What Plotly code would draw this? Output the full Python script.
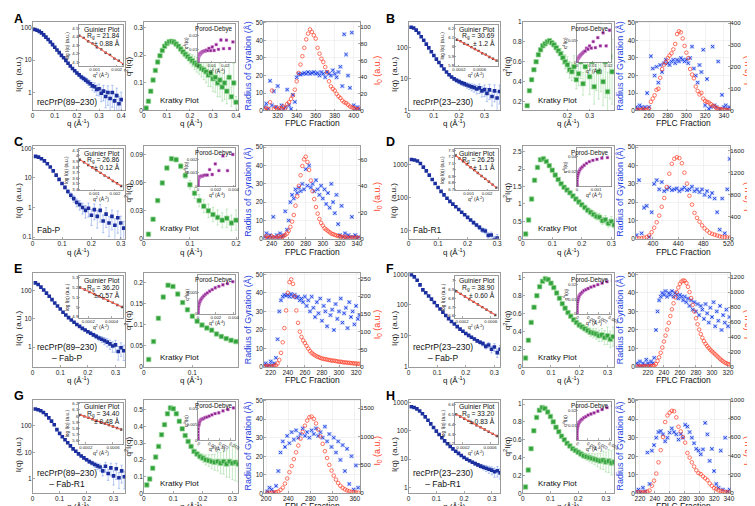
import numpy as np
import plotly.graph_objects as go

W, H = 755, 506
FONT = "Liberation Sans, Arial, sans-serif"

# ---------------- shared q grid (1/Angstrom) ----------------
Q = [0.01, 0.02, 0.03, 0.04, 0.05, 0.06, 0.07, 0.08, 0.09, 0.10,
     0.11, 0.12, 0.13, 0.14, 0.15, 0.16, 0.17, 0.18, 0.19, 0.20,
     0.21, 0.22, 0.23, 0.24, 0.25, 0.26, 0.27, 0.28, 0.29, 0.30,
     0.31, 0.32, 0.33, 0.34, 0.35, 0.36, 0.37, 0.38, 0.39, 0.40]

# ---------------- Panel A ----------------
A_I = [88, 83, 77, 69, 60, 51, 43, 36, 30, 25,
       20.5, 17, 14, 11.8, 9.8, 8.0, 6.6, 5.5, 4.7, 4.0,
       3.5, 3.0, 2.7, 2.4, 2.1, 1.85, 1.6, 1.5, 1.25, 1.3,
       0.95, 1.1, 0.75, 1.0, 0.65, 1.0, 0.55, 0.8, 0.45, 0.6]
A_err = [0.02, 0.02, 0.02, 0.02, 0.02, 0.02, 0.02, 0.02, 0.02, 0.02,
         0.02, 0.02, 0.03, 0.03, 0.03, 0.04, 0.05, 0.06, 0.08, 0.10,
         0.12, 0.14, 0.16, 0.18, 0.20, 0.24, 0.28, 0.32, 0.36, 0.40,
         0.45, 0.50, 0.55, 0.60, 0.60, 0.65, 0.65, 0.70, 0.70, 0.70]
A_K = [0.009, 0.034, 0.070, 0.110, 0.145, 0.175, 0.198, 0.217, 0.232, 0.242,
       0.248, 0.250, 0.247, 0.240, 0.232, 0.222, 0.212, 0.203, 0.195, 0.187,
       0.180, 0.172, 0.165, 0.160, 0.152, 0.147, 0.140, 0.128, 0.135, 0.115,
       0.120, 0.100, 0.110, 0.085, 0.100, 0.070, 0.120, 0.050, 0.100, 0.030]
A_gq2 = [0.0003, 0.0005, 0.0007, 0.0009, 0.0011, 0.0013, 0.0015, 0.0017, 0.0019, 0.0021, 0.0023]
A_gln = [4.41, 4.385, 4.345, 4.32, 4.275, 4.25, 4.21, 4.185, 4.14, 4.115, 4.075]
A_frac = list(range(306, 407, 2))
A_rg = [2, 4, 1, 17, 3, 11, 2, 14, 1, 3, 0.5, 2, 12, 3, 1, 9, 5, 19, 21, 20.5,
        21, 21.5, 21, 22, 21, 21.5, 22, 21, 21.5, 20, 22, 21, 19, 22, 21, 20, 23, 21, 19, 22,
        25, 14, 43.5, 32, 20, 13, 44.5, 3, 1, 2, 1]
A_i0 = [1, 3, 2, 10, 24, 2, 4, 1, 3, 2, 5, 3, 8, 10, 14, 18, 25, 35, 45, 55,
        65, 75, 85, 92, 97, 94, 90, 86, 75, 68, 62, 58, 52, 46, 35, 29, 26, 24, 20, 17,
        15, 12, 10, 9, 7, 5, 4, 3, 2, 1, 2]

# ---------------- Panel B ----------------
B_I = [425, 405, 345, 280, 215, 165, 125, 95, 72, 55,
       42, 33, 26, 20.5, 16.5, 13.5, 11.5, 10, 9, 8.2,
       7.5, 7, 6.4, 6, 5.6, 5.3, 4.8, 5.2, 4.2, 4.6,
       3.5, 4.5, 2.8, 4.2, 2.5, 4.0, 2.0, 3.5, 2.5, 3.0]
B_err = [0.02, 0.02, 0.02, 0.02, 0.02, 0.02, 0.02, 0.02, 0.02, 0.02,
         0.02, 0.03, 0.03, 0.04, 0.05, 0.06, 0.08, 0.10, 0.12, 0.14,
         0.16, 0.18, 0.20, 0.22, 0.25, 0.28, 0.30, 0.33, 0.36, 0.40,
         0.45, 0.50, 0.50, 0.55, 0.60, 0.60, 0.60, 0.65, 0.65, 0.65]
B_K = [0.04, 0.16, 0.31, 0.42, 0.52, 0.60, 0.67, 0.72, 0.76, 0.78,
       0.80, 0.81, 0.79, 0.77, 0.74, 0.71, 0.68, 0.64, 0.60, 0.57,
       0.52, 0.50, 0.55, 0.42, 0.48, 0.60, 0.38, 0.55, 0.70, 0.45,
       0.60, 0.35, 0.62, 0.50, 0.75, 0.40, 0.60, 0.30, 0.65, 0.50]
B_gq2 = [0.00016, 0.00023, 0.0003, 0.00037, 0.00044, 0.00051, 0.00058, 0.00065, 0.00072, 0.00079, 0.00086, 0.00093]
B_gln = [6.075, 6.06, 6.035, 6.02, 5.995, 5.975, 5.955, 5.93, 5.915, 5.89, 5.87, 5.85]
B_frac = list(range(246, 347, 2))
B_rg = [2, 1, 3, 2, 1, 2, 10, 2, 31, 24, 20, 25, 16, 26, 22, 27, 29, 27, 26, 28,
        29, 27, 29, 28, 30, 29, 28, 29, 27, 30, 36.5, 24, 20, 16, 26, 22, 34.7, 3, 18, 1,
        2, 36.5, 3, 2, 28, 1, 9, 2, 3, 1, 2]
B_i0 = [2, 5, 1, 3, 8, 2, 4, 10, 40, 55, 70, 95, 100, 150, 190, 210, 222, 240, 252, 262,
        280, 305, 350, 363, 358, 330, 296, 265, 240, 190, 165, 148, 110, 90, 74, 81, 55, 44, 40, 37,
        30, 22, 20, 12, 8, 7, 5, 4, 3, 2, 3]

# ---------------- Panel C ----------------
C_I = [54, 51, 45, 38, 30.5, 23.5, 17.5, 12.5, 9, 6.5,
       4.8, 3.5, 2.6, 2.0, 1.5, 1.25, 1.0, 0.8, 0.95, 0.55,
       0.85, 0.5, 0.8, 0.35, 0.6, 0.3, 0.5, 0.25, 0.45, 0.3,
       0.2]
C_err = [0.02, 0.02, 0.02, 0.02, 0.02, 0.03, 0.03, 0.04, 0.05, 0.08,
         0.12, 0.16, 0.20, 0.25, 0.30, 0.35, 0.40, 0.45, 0.50, 0.55,
         0.55, 0.60, 0.60, 0.60, 0.65, 0.65, 0.65, 0.70, 0.70, 0.70,
         0.70]
C_K = [0.005, 0.021, 0.041, 0.060, 0.076, 0.086, 0.085, 0.078, 0.068, 0.058,
       0.049, 0.041, 0.035, 0.030, 0.026, 0.023, 0.020, 0.022, 0.017, 0.020]
C_gq2 = [0.0003, 0.0005, 0.0007, 0.0009, 0.0011, 0.0013, 0.0015, 0.0017, 0.0019, 0.0021, 0.0023]
C_gln = [3.93, 3.885, 3.835, 3.795, 3.74, 3.695, 3.645, 3.605, 3.55, 3.51, 3.46]
C_frac = list(range(232, 343, 2))
C_rg = [1, 3, 0.5, 2, 1, 12, 1, 2, 0.5, 3, 1, 2, 15, 5,
        10, 20, 24, 22, 27, 25, 28, 26, 30, 27, 38, 29, 40, 28, 30, 26, 32, 27, 24, 29,
        22, 27, 19, 25, 17, 30, 20, 14, 24, 8, 2, 18, 1, 3, 0.5, 2, 1, 12, 1, 2, 0.5, 1]
C_i0 = [1, 2, 0.5, 1, 2, 1, 0.5, 1, 2, 1, 1.5, 2, 3, 4,
        6, 9, 13, 18, 25, 32, 40, 48, 55, 60, 62, 58, 52, 44, 36, 30, 24, 19, 15, 12,
        10, 8, 7, 6, 5, 4, 3.5, 3, 2.5, 2, 2, 1.5, 1, 1.5, 1, 0.5, 1, 0.5, 1, 0.5, 1, 0.5]

# ---------------- Panel D ----------------
D_I = [1390, 1350, 1260, 1050, 820, 630, 470, 347, 260, 197,
       151, 118, 93, 75, 62, 51.5, 42.5, 35, 29.4, 24.5,
       20.4, 17, 14.4, 12.2, 10.2, 9.5, 7.0, 7.2, 5.2, 5.8,
       4.2]
D_err = [0.02, 0.02, 0.02, 0.02, 0.02, 0.02, 0.02, 0.02, 0.02, 0.02,
         0.02, 0.02, 0.02, 0.02, 0.02, 0.03, 0.04, 0.05, 0.06, 0.07,
         0.08, 0.10, 0.12, 0.14, 0.16, 0.18, 0.20, 0.22, 0.25, 0.28,
         0.30]
D_K = [0.14, 0.54, 1.14, 1.68, 2.05, 2.27, 2.30, 2.22, 2.10, 1.97,
       1.83, 1.70, 1.58, 1.48, 1.40, 1.32, 1.23, 1.14, 1.06, 0.98,
       0.90, 0.82, 0.76, 0.70, 0.64, 0.62, 0.52, 0.55, 0.44, 0.50,
       0.40]
D_gq2 = [0.0003, 0.0005, 0.0007, 0.0009, 0.0011, 0.0013, 0.0015, 0.0017, 0.0019, 0.0021, 0.0023, 0.0025]
D_gln = [7.22, 7.175, 7.13, 7.085, 7.04, 6.995, 6.95, 6.905, 6.86, 6.815, 6.77, 6.725]
D_frac = list(range(374, 523, 4))
D_rg = [2, 32, 3, 17, 18, 1, 14.5, 30, 32, 27, 31, 26, 27, 28, 26.5, 27, 27.5, 26, 27, 28,
        26.5, 27, 28.5, 26, 27, 25.5, 27, 24, 26, 23, 25, 22, 14.5, 5, 22, 3, 27, 43.6]
D_i0 = [5, 8, 10, 20, 30, 60, 120, 200, 300, 420, 580, 740, 940, 1180, 1360, 1450, 1478, 1463, 1370, 1200,
        1000, 780, 620, 470, 380, 310, 244, 190, 150, 110, 90, 75, 60, 45, 35, 30, 25, 20]

# ---------------- Panel E ----------------
E_I = [183, 160, 130, 103, 80, 62, 47, 36, 28, 22,
       17, 13.5, 11, 9, 7.5, 6.3, 5.4, 4.6, 4, 3.5,
       3.1, 2.7, 2.4, 2.1, 1.9, 1.7, 1.5, 1.3, 1.1, 1.2,
       0.7, 0.95, 0.75]
E_err = [0.02, 0.02, 0.02, 0.02, 0.02, 0.02, 0.02, 0.02, 0.02, 0.02,
         0.02, 0.02, 0.03, 0.03, 0.04, 0.05, 0.06, 0.07, 0.08, 0.10,
         0.12, 0.14, 0.17, 0.20, 0.24, 0.28, 0.32, 0.36, 0.40, 0.45,
         0.50, 0.50, 0.55]
E_K = [0.018, 0.060, 0.115, 0.165, 0.193, 0.190, 0.172, 0.152, 0.135, 0.120,
       0.108, 0.099, 0.092, 0.087, 0.078, 0.072, 0.067, 0.063, 0.060, 0.058]
E_gq2 = [0.00013, 0.00017, 0.00021, 0.00025, 0.00029, 0.00033, 0.00037, 0.00041, 0.00045, 0.00049]
E_gln = [5.2, 5.18, 5.155, 5.135, 5.11, 5.09, 5.065, 5.045, 5.02, 5.0]
E_frac = list(range(212, 325, 2))
E_rg = [1, 2, 0.5, 1, 3, 1, 2, 5,
        15, 30, 36, 38, 39, 38.5, 39, 38, 39.5, 38, 39, 37.5, 38, 36, 37, 35, 38, 33, 36, 30,
        38, 32, 27, 35, 29, 37, 25, 33, 30, 22, 36, 28, 31, 20, 34, 26, 30, 37, 24, 29,
        32, 21, 35, 27, 30, 23, 33, 26, 28]
E_i0 = [2, 1, 3, 2, 1, 2, 3, 5,
        10, 20, 40, 70, 110, 160, 210, 240, 248, 235, 200, 160, 125, 100, 85, 75, 68, 60, 52, 45,
        40, 36, 33, 30, 28, 26, 24, 23, 22, 21, 20, 19, 18, 18, 17, 16, 15, 15, 14, 13,
        13, 12, 12, 11, 11, 10, 10, 9, 9]

# ---------------- Panel F ----------------
F_I = [960, 820, 640, 450, 310, 250, 196, 155, 121, 94,
       74, 58, 45.6, 36, 29, 24, 19.7, 16.4, 13.9, 11.8,
       10.2, 8.9, 7.8, 6.8, 6.1, 5.5, 4.5, 5.0, 3.6, 4.3,
       2.8, 3.6]
F_err = [0.02, 0.02, 0.02, 0.02, 0.02, 0.02, 0.02, 0.02, 0.02, 0.02,
         0.02, 0.02, 0.02, 0.02, 0.02, 0.03, 0.03, 0.04, 0.05, 0.06,
         0.07, 0.08, 0.10, 0.12, 0.14, 0.16, 0.18, 0.20, 0.24, 0.28,
         0.30, 0.32]
F_K = [0.10, 0.30, 0.50, 0.67, 0.80, 0.90, 0.96, 0.99, 0.98, 0.94,
       0.89, 0.83, 0.77, 0.71, 0.66, 0.61, 0.57, 0.53, 0.50, 0.47,
       0.45, 0.43, 0.41, 0.39, 0.38, 0.37, 0.35, 0.36, 0.33, 0.35,
       0.31, 0.34]
F_gq2 = [0.00012, 0.00018, 0.00024, 0.0003, 0.00036, 0.00042, 0.00048, 0.00054, 0.0006, 0.00066]
F_gln = [6.88, 6.85, 6.82, 6.79, 6.76, 6.73, 6.70, 6.67, 6.64, 6.61]
F_frac = list(range(206, 323, 2))
F_rg = [2, 1, 3, 0.5, 2, 1, 4, 2, 1, 3, 2, 5,
        20, 30, 36, 38, 40, 39, 41, 38, 40, 39, 41, 38, 40, 39, 37, 39, 38, 36, 38, 35,
        37, 33, 36, 31, 35, 30, 34, 28, 33, 31, 26, 34, 29, 24, 32, 27, 35, 22, 30, 25,
        33, 20, 28, 24, 31, 22, 27]
F_i0 = [5, 3, 8, 4, 6, 10, 5, 8, 12, 10, 15, 20,
        40, 80, 130, 190, 260, 340, 420, 500, 590, 680, 770, 850, 930, 1000, 1060, 1110, 1140, 1155,
        1150, 1120, 1070, 1000, 920, 830, 740, 650, 570, 500, 440, 390, 345, 310, 280, 255, 230, 210,
        190, 170, 150, 130, 110, 90, 75, 60, 50, 40, 35]

# ---------------- Panel G ----------------
G_I = [430, 405, 370, 320, 260, 200, 150, 110, 72, 52,
       39, 30, 23, 17.5, 13.5, 11, 8.8, 7.3, 6.2, 5.3,
       4.5, 4.0, 3.5, 3.1, 2.8, 2.0, 3.0, 1.6, 2.6, 1.3,
       2.4, 1.1, 2.0, 1.2]
G_err = [0.02, 0.02, 0.02, 0.02, 0.02, 0.02, 0.02, 0.02, 0.02, 0.02,
         0.02, 0.02, 0.02, 0.02, 0.03, 0.04, 0.05, 0.07, 0.09, 0.12,
         0.15, 0.18, 0.22, 0.26, 0.30, 0.35, 0.40, 0.45, 0.50, 0.55,
         0.60, 0.60, 0.65, 0.65]
G_K = [0.05, 0.085, 0.15, 0.216, 0.28, 0.35, 0.41, 0.475, 0.51, 0.505,
       0.475, 0.43, 0.385, 0.345, 0.31, 0.28, 0.25, 0.235, 0.22, 0.21,
       0.20, 0.195, 0.19, 0.185, 0.19, 0.18, 0.19, 0.175, 0.19, 0.18,
       0.185, 0.175]
G_gq2 = [0.00012, 0.00018, 0.00024, 0.0003, 0.00036, 0.00042, 0.00048, 0.00054, 0.0006, 0.00066, 0.00072]
G_gln = [6.02, 5.996, 5.973, 5.949, 5.926, 5.902, 5.878, 5.855, 5.831, 5.808, 5.784]
G_frac = list(range(202, 367, 4))
G_rg = [1, 3, 2, 0.5, 4, 12, 22,
        28, 25, 31, 27, 33, 29, 34, 30, 32, 35, 31, 33, 30, 34, 32, 35, 31, 33, 30, 36,
        28, 32, 25, 30, 22, 28, 18, 26, 12, 24, 5, 20, 2, 15, 3]
G_i0 = [10, 5, 8, 12, 20, 30, 60,
        100, 170, 260, 370, 480, 600, 720, 840, 960, 1080, 1190, 1280, 1340, 1350, 1310, 1230, 1120, 1000, 870, 740,
        620, 500, 400, 310, 240, 180, 130, 95, 70, 50, 35, 25, 20, 15, 10]

# ---------------- Panel H ----------------
H_I = [700, 660, 590, 500, 400, 310, 235, 175, 130, 97,
       74, 57, 44, 35, 28, 23, 19, 16, 13.5, 11.5,
       10, 8.8, 7.8, 7, 6.3, 5.7, 5.2, 4.8, 4.4, 4.1,
       3.6, 3.9, 3.3]
H_err = [0.02, 0.02, 0.02, 0.02, 0.02, 0.02, 0.02, 0.02, 0.02, 0.02,
         0.02, 0.02, 0.02, 0.02, 0.02, 0.03, 0.03, 0.04, 0.05, 0.06,
         0.07, 0.08, 0.10, 0.12, 0.14, 0.16, 0.20, 0.24, 0.28, 0.32,
         0.36, 0.40, 0.40]
H_K = [0.07, 0.26, 0.50, 0.70, 0.85, 0.93, 0.96, 0.95, 0.91, 0.86,
       0.80, 0.74, 0.69, 0.64, 0.60, 0.56, 0.53, 0.50, 0.48, 0.46,
       0.44, 0.42, 0.41, 0.40, 0.39, 0.38, 0.37, 0.36, 0.37, 0.35,
       0.36, 0.34, 0.35]
H_gq2 = [0.0001, 0.00016, 0.00022, 0.00028, 0.00034, 0.0004, 0.00046, 0.00052, 0.00058, 0.00064, 0.0007]
H_gln = [6.5, 6.478, 6.456, 6.434, 6.412, 6.39, 6.368, 6.346, 6.324, 6.302, 6.28]
H_frac = list(range(215, 342, 3))
H_rg = [1, 2, 0.5, 3, 1, 22, 5, 23, 26, 30, 33, 33.6, 31.8, 28, 30, 32.7, 35, 33, 31.8, 29,
        32, 30, 37, 36, 33, 30, 27, 24, 23, 21, 23.7, 38, 31.8, 17.5, 24, 12, 5, 3, 23, 2,
        30, 1, 2]
H_i0 = [8, 10, 12, 9, 11, 18, 30, 80, 134, 210, 330, 460, 600, 760, 830, 860, 880, 875, 810, 710,
        660, 600, 540, 430, 380, 330, 285, 245, 215, 205, 180, 160, 140, 105, 80, 55, 45, 30, 25, 20,
        12, 10, 8]

# ---------------- labels / Guinier results ----------------
NAMES = {'A': "recPrP(89–230)", 'B': "recPrP(23–230)", 'C': "Fab-P", 'D': "Fab-R1",
         'E': "recPrP(89–230)<br>– Fab-P", 'F': "recPrP(23–230)<br>– Fab-P",
         'G': "recPrP(89–230)<br>– Fab-R1", 'H': "recPrP(23–230)<br>– Fab-R1"}
RG_VAL = {'A': "21.84", 'B': "30.69", 'C': "26.86", 'D': "26.25", 'E': "36.20", 'F': "38.90", 'G': "34.40", 'H': "33.20"}
RG_ERR = {'A': "0.88", 'B': "1.2", 'C': "0.12", 'D': "1.1", 'E': "0.57", 'F': "0.60", 'G': "0.48", 'H': "0.83"}

DATA = {
    'A': dict(I=A_I, err=A_err, K=A_K, gq2=A_gq2, gln=A_gln, frac=A_frac, rg=A_rg, i0=A_i0),
    'B': dict(I=B_I, err=B_err, K=B_K, gq2=B_gq2, gln=B_gln, frac=B_frac, rg=B_rg, i0=B_i0),
    'C': dict(I=C_I, err=C_err, K=C_K, gq2=C_gq2, gln=C_gln, frac=C_frac, rg=C_rg, i0=C_i0),
    'D': dict(I=D_I, err=D_err, K=D_K, gq2=D_gq2, gln=D_gln, frac=D_frac, rg=D_rg, i0=D_i0),
    'E': dict(I=E_I, err=E_err, K=E_K, gq2=E_gq2, gln=E_gln, frac=E_frac, rg=E_rg, i0=E_i0),
    'F': dict(I=F_I, err=F_err, K=F_K, gq2=F_gq2, gln=F_gln, frac=F_frac, rg=F_rg, i0=F_i0),
    'G': dict(I=G_I, err=G_err, K=G_K, gq2=G_gq2, gln=G_gln, frac=G_frac, rg=G_rg, i0=G_i0),
    'H': dict(I=H_I, err=H_err, K=H_K, gq2=H_gq2, gln=H_gln, frac=H_frac, rg=H_rg, i0=H_i0),
}

# ---------------- axis configuration (ranges / ticks) ----------------
CFG = {
    'A': dict(row=0, col=0, sx=[0, 0.418], sxt=[0, 0.1, 0.2, 0.3, 0.4], sy=[-0.56, 2.18], syt=[1, 10, 100],
              kx=[0, 0.41], kxt=[0, 0.1, 0.2, 0.3, 0.4], ky=[0, 0.32], kyt=[0, 0.1, 0.2, 0.3],
              gx=[0.00028, 0.0023], gxt=[0.001, 0.002], gy=[4.05, 4.54], gyt=[4.1, 4.2, 4.3, 4.4, 4.5],
              px=[0, 0.0274], pxt=[0, 0.01, 0.02], py=[0, 0.029], pyt=[0.01, 0.02],
              fx=[305.5, 407], fxt=[320, 340, 360, 380, 400], fy2=[0, 106], fy2t=[0, 20, 40, 60, 80, 100]),
    'B': dict(row=0, col=1, sx=[0, 0.362], sxt=[0, 0.1, 0.2, 0.3], sy=[0, 2.8], syt=[1, 10, 100],
              kx=[0, 0.41], kxt=[0.2, 0.3], ky=[0.11, 1.0], kyt=[0.2, 0.4, 0.6, 0.8, 1],
              gx=[0.00012, 0.00096], gxt=[0.0002, 0.0006], gy=[5.79, 6.235], gyt=[5.8, 5.9, 6, 6.1, 6.2],
              px=[0, 0.022], pxt=[0, 0.01, 0.02], py=None, pyt=None,
              fx=[246, 347], fxt=[260, 280, 300, 320, 340], fy2=[0, 406], fy2t=[0, 100, 200, 300, 400]),
    'C': dict(row=1, col=0, sx=[0, 0.315], sxt=[0, 0.1, 0.2, 0.3], sy=[-1.06, 2.08], syt=[0.1, 1, 10, 100],
              kx=[0, 0.205], kxt=[0, 0.1, 0.2], ky=[0, 0.0995], kyt=[0, 0.03, 0.06, 0.09],
              gx=[0.00025, 0.0024], gxt=[0.001, 0.002], gy=[3.38, 4.12], gyt=[3.4, 3.5, 3.6, 3.7, 3.8, 3.9, 4, 4.1],
              px=[0, 0.0042], pxt=[0, 0.002, 0.004], py=None, pyt=None,
              fx=[231, 344], fxt=[240, 260, 280, 300, 320, 340], fy2=[0, 70], fy2t=[0, 20, 40, 60]),
    'D': dict(row=1, col=1, sx=[0, 0.31], sxt=[0, 0.1, 0.2, 0.3], sy=[0.74, 3.55], syt=[10, 100, 1000],
              kx=[0, 0.31], kxt=[0, 0.1, 0.2, 0.3], ky=[0, 2.66], kyt=[0, 0.5, 1, 1.5, 2, 2.5],
              gx=[0.00025, 0.0026], gxt=[0.001, 0.002], gy=[6.68, 7.32], gyt=[6.7, 6.8, 6.9, 7, 7.1, 7.2, 7.3],
              px=[0, 0.0018], pxt=[0, 0.001], py=[0, 0.052], pyt=[0.02, 0.04],
              fx=[373, 523], fxt=[400, 440, 480, 520], fy2=[0, 1680], fy2t=[0, 400, 800, 1200, 1600]),
    'E': dict(row=2, col=0, sx=[0, 0.335], sxt=[0, 0.1, 0.2, 0.3], sy=[-0.7, 2.6], syt=[1, 10, 100],
              kx=[0, 0.195], kxt=[0, 0.1], ky=[0, 0.221], kyt=[0, 0.05, 0.1, 0.15, 0.2],
              gx=[0.00012, 0.0005], gxt=[0.0002, 0.0004], gy=[4.89, 5.316], gyt=[4.9, 5, 5.1, 5.2, 5.3],
              px=[0, 0.0042], pxt=[0, 0.002, 0.004], py=None, pyt=None,
              fx=[212, 325], fxt=[220, 240, 260, 280, 300, 320], fy2=[0, 265], fy2t=[0, 50, 100, 150, 200, 250]),
    'F': dict(row=2, col=1, sx=[0, 0.32], sxt=[0, 0.1, 0.2, 0.3], sy=[-0.02, 3.03], syt=[1, 10, 100, 1000],
              kx=[0, 0.324], kxt=[0, 0.1, 0.2, 0.3], ky=[0, 1.05], kyt=[0, 0.2, 0.4, 0.6, 0.8, 1],
              gx=[0.0001, 0.0007], gxt=[0.0002, 0.0006], gy=[6.58, 7.05], gyt=[6.6, 6.7, 6.8, 6.9, 7],
              px=[0, 0.0032], pxt=[0, 0.001, 0.002, 0.003], py=None, pyt=None,
              fx=[205, 323], fxt=[220, 240, 260, 280, 300, 320], fy2=[0, 1250], fy2t=[0, 200, 400, 600, 800, 1000, 1200]),
    'G': dict(row=3, col=0, sx=[0, 0.343], sxt=[0, 0.1, 0.2, 0.3], sy=[-0.54, 2.99], syt=[1, 10, 100],
              kx=[0, 0.32], kxt=[0, 0.1, 0.2, 0.3], ky=[0, 0.56], kyt=[0, 0.1, 0.2, 0.3, 0.4, 0.5],
              gx=[0.0001, 0.00075], gxt=[0.0002, 0.0006], gy=[5.55, 6.22], gyt=[5.6, 5.7, 5.8, 5.9, 6, 6.1, 6.2],
              px=[0, 0.0035], pxt=[0, 0.001, 0.002, 0.003], py=None, pyt=None,
              fx=[196, 370], fxt=[200, 240, 280, 320, 360], fy2=[0, 1650], fy2t=[0, 500, 1000, 1500]),
    'H': dict(row=3, col=1, sx=[0, 0.33], sxt=[0, 0.1, 0.2, 0.3], sy=[-0.2, 3.1], syt=[1, 10, 100, 1000],
              kx=[0, 0.33], kxt=[0, 0.1, 0.2, 0.3], ky=[0, 1.05], kyt=[0, 0.2, 0.4, 0.6, 0.8, 1],
              gx=[0.00008, 0.00072], gxt=[0.0002, 0.0006], gy=[6.2, 6.62], gyt=[6.2, 6.3, 6.4, 6.5, 6.6],
              px=[0, 0.0032], pxt=[0, 0.001, 0.002, 0.003], py=[0, 0.026], pyt=[0.01, 0.02],
              fx=[214.5, 342], fxt=[220, 240, 260, 280, 300, 320, 340], fy2=[0, 1000], fy2t=[0, 200, 400, 600, 800, 1000]),
}

ROWS = [(10, 100), (136, 230), (265, 360), (393, 488)]
COLS = [dict(saxs=(22, 116), kr=(135, 231), fp=(257, 355)),
        dict(saxs=(404, 497), kr=(520, 613), fp=(635, 731))]

BLUE = '#1c2f9e'
GREEN = '#33a23d'
PURPLE = '#8a1b8a'
RG_BLUE = '#1f3fe0'
I0_RED = '#ff3b22'

layout = dict(width=W, height=H, margin=dict(l=0, r=0, t=0, b=0, pad=0),
              paper_bgcolor='white', plot_bgcolor='white', showlegend=False,
              font=dict(family=FONT, size=7, color='#222'))
annotations = []
traces = []
cnt = {'x': 0, 'y': 0}


def new_axis(kind, px, cfg):
    cnt[kind] += 1
    n = cnt[kind]
    name = kind + 'axis' + ('' if n == 1 else str(n))
    ref = kind + ('' if n == 1 else str(n))
    d = dict(cfg)
    if px is not None:
        if kind == 'x':
            d['domain'] = [px[0] / W, px[1] / W]
        else:
            d['domain'] = [1 - px[1] / H, 1 - px[0] / H]
    layout[name] = d
    return name, ref


def style(rng, vals=None, size=6.5, tl=2, grid=False, mirror=True, standoff=-1, **kw):
    d = dict(range=rng, showline=True, linecolor='#707070', linewidth=0.7, mirror=mirror,
             ticks='inside', ticklen=tl, tickwidth=0.6, tickcolor='#707070',
             showgrid=grid, gridcolor='#e9e9e9', gridwidth=0.6, zeroline=False,
             ticklabelstandoff=standoff,
             tickfont=dict(size=size, color='#222', family=FONT), fixedrange=True)
    if vals is not None:
        d.update(tickmode='array', tickvals=vals, ticktext=[f"{v:g}" for v in vals])
    d.update(kw)
    return d


def pair(xpx, ypx, xcfg, ycfg):
    xn, xr = new_axis('x', xpx, xcfg)
    yn, yr = new_axis('y', ypx, ycfg)
    layout[xn]['anchor'] = yr
    layout[yn]['anchor'] = xr
    return xr, yr


def ann(text, x, y, size, color='#111', angle=0, xa='center', ya='middle', align='center'):
    annotations.append(dict(text=text, x=x / W, y=1 - y / H, xref='paper', yref='paper',
                            showarrow=False, textangle=angle, xanchor=xa, yanchor=ya, align=align,
                            font=dict(size=size, color=color, family=FONT), borderpad=0))


for key in 'ABCDEFGH':
    c = CFG[key]
    d = DATA[key]
    T, B = ROWS[c['row']]
    col = COLS[c['col']]

    # ---------- SAXS curve ----------
    L, R = col['saxs']
    n = len(d['I'])
    q = Q[:n]
    xr, yr = pair((L, R), (T, B), style(c['sx'], c['sxt']),
                  style(c['sy'], c['syt'], type='log'))
    errs = [i * e for i, e in zip(d['I'], d['err'])]
    traces.append(go.Scatter(x=q, y=d['I'], xaxis=xr, yaxis=yr, mode='markers',
                             marker=dict(symbol='square', size=3.6, color=BLUE, line=dict(width=0)),
                             error_y=dict(type='data', array=errs, color='rgba(90,130,230,0.55)',
                                          thickness=0.8, width=1.2)))
    ann("I(q)  (a.u.)", L - 15, (T + B) / 2 + 8, 8, angle=-90)
    ann("q (Å<sup>-1</sup>)", (L + R) / 2, B + 13, 8)
    ann(NAMES[key], L + 3, B - 3, 8.5, xa='left', ya='bottom', align='center')
    ann("<b>%s</b>" % key, 2 if c['col'] == 0 else 380, T - 3 if c['row'] == 0 else T - 4, 12.5,
        color='#000', xa='left', ya='middle')

    # ---------- Guinier inset ----------
    gL, gR, gT, gB = L + 47, R - 2, T + 3, T + 45
    gxr, gyr = pair((gL, gR), (gT, gB), style(c['gx'], c['gxt'], size=4.3, tl=1.5),
                    style(c['gy'], c['gyt'], size=4.3, tl=1.5))
    traces.append(go.Scatter(x=d['gq2'], y=d['gln'], xaxis=gxr, yaxis=gyr, mode='markers',
                             marker=dict(symbol='square', size=2.4, color='#4a4a4a', line=dict(width=0))))
    coef = np.polyfit(d['gq2'], d['gln'], 1)
    fx = [min(d['gq2']), max(d['gq2'])]
    traces.append(go.Scatter(x=fx, y=list(np.polyval(coef, fx)), xaxis=gxr, yaxis=gyr, mode='lines',
                             line=dict(color='#ff5a4a', width=1.1)))
    ann("Guinier Plot", gR - 2, gT + 4.5, 6.8, xa='right')
    ann("R<sub>g</sub> = %s" % RG_VAL[key], gR - 2, gT + 11.5, 6.8, xa='right')
    ann("± %s Å" % RG_ERR[key], gR - 2, gT + 18.5, 6.8, xa='right')
    ann("log I(q) (a.u.)", gL - 12, (gT + gB) / 2, 4.8, angle=-90)
    ann("q<sup>2</sup> (Å<sup>-2</sup>)", (gL + gR) / 2, gB + 9, 5)

    # ---------- Kratky ----------
    kL, kR = col['kr']
    nk = len(d['K'])
    kq = Q[:nk]
    kxr, kyr = pair((kL, kR), (T, B), style(c['kx'], c['kxt']), style(c['ky'], c['kyt']))
    kerr = [k * e for k, e in zip(d['K'], d['err'])]
    traces.append(go.Scatter(x=kq, y=d['K'], xaxis=kxr, yaxis=kyr, mode='markers',
                             marker=dict(symbol='square', size=4.5, color=GREEN,
                                         line=dict(width=0.8, color='rgba(150,215,150,0.9)')),
                             error_y=dict(type='data', array=kerr, color='rgba(140,210,140,0.6)',
                                          thickness=0.8, width=1.2)))
    ann("q<sup>2</sup>I(q)", kL - 16, (T + B) / 2, 8, angle=-90)
    ann("q (Å<sup>-1</sup>)", (kL + kR) / 2, B + 13, 8)
    ann("Kratky Plot", kL + 15, B - 10, 8, xa='left')

    # ---------- Porod-Debye inset (q^4 I vs q^4) ----------
    pL, pR, pT, pB = kL + 55, kR - 3, T + 2, T + 41
    p_x = [qq ** 4 for qq in q]
    p_y = [qq ** 4 * ii for qq, ii in zip(q, d['I'])]
    if c['py'] is not None:
        pys = style(c['py'], c['pyt'], size=4.3, tl=1.5)
    else:
        inside = [yy for xx, yy in zip(p_x, p_y) if xx <= c['px'][1]]
        pys = style([0, max(inside) * 1.2], None, size=4.3, tl=1.5, nticks=3, tickformat='.3~f')
    pxr, pyr = pair((pL, pR), (pT, pB), style(c['px'], c['pxt'], size=4.3, tl=1.5), pys)
    traces.append(go.Scatter(x=p_x, y=p_y, xaxis=pxr, yaxis=pyr, mode='markers',
                             marker=dict(symbol='square', size=2.8, color=PURPLE,
                                         line=dict(width=0.6, color='rgba(215,150,215,0.9)'))))
    ann("Porod-Debye", pR - 1.5, pT + 5, 6.3, xa='right')
    ann("q<sup>4</sup>I(q)", pL - 12, (pT + pB) / 2, 4.8, angle=-90)
    ann("q<sup>4</sup> (Å<sup>-4</sup>)", (pL + pR) / 2, pB + 9, 5)

    # ---------- FPLC profile ----------
    fL, fR = col['fp']
    fxr, fyr = pair((fL, fR), (T, B), style(c['fx'], c['fxt'], grid=True),
                    style([0, 50.6], [0, 10, 20, 30, 40, 50], grid=True, mirror=False))
    y2n, y2r = new_axis('y', None, style(c['fy2'], c['fy2t'], mirror=False, size=6.2, standoff=-2))
    layout[y2n].update(overlaying=fyr, side='right', anchor=fxr)
    m = min(len(d['frac']), len(d['rg']), len(d['i0']))
    fr = d['frac'][:m]
    traces.append(go.Scatter(x=fr, y=d['rg'][:m], xaxis=fxr, yaxis=fyr, mode='markers',
                             marker=dict(symbol='square', size=4.2, color='rgba(120,150,255,0.45)',
                                         line=dict(width=0))))
    traces.append(go.Scatter(x=fr, y=d['rg'][:m], xaxis=fxr, yaxis=fyr, mode='markers',
                             marker=dict(symbol='x-thin', size=3.2, color=RG_BLUE,
                                         line=dict(width=0.9, color=RG_BLUE))))
    traces.append(go.Scatter(x=fr, y=d['i0'][:m], xaxis=fxr, yaxis=y2r, mode='markers',
                             marker=dict(symbol='circle-open', size=3.6, color=I0_RED,
                                         line=dict(width=0.7, color=I0_RED))))
    ann("Radius of Gyration (Å)", fL - 16, (T + B) / 2, 9, color=RG_BLUE, angle=-90)
    ann("I<sub>0</sub> (a.u.)", min(fR + 17, W - 6), (T + B) / 2 + 4, 9, color=I0_RED, angle=-90)
    ann("FPLC Fraction", (fL + fR) / 2, B + 13, 8.5)

layout['annotations'] = annotations
fig = go.Figure(data=traces, layout=layout)
fig.write_html("out.html", config=dict(displayModeBar=False, staticPlot=True))
